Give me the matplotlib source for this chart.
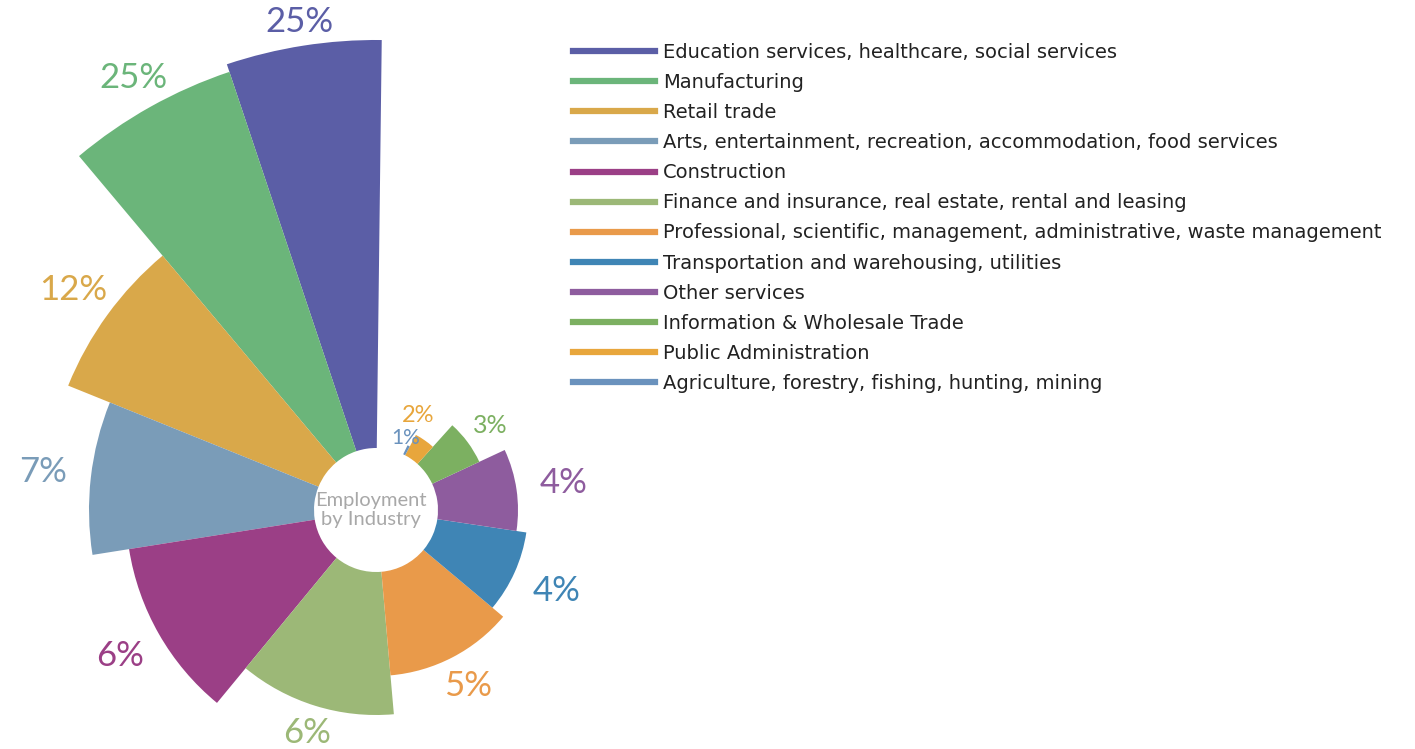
import numpy as np
import matplotlib.pyplot as plt
from matplotlib.lines import Line2D

plt.rcParams['font.family'] = ['Lato', 'DejaVu Sans']

# categories, in drawing order (counter-clockwise from the top)
industries = [
    "Education services, healthcare, social services",
    "Manufacturing",
    "Retail trade",
    "Arts, entertainment, recreation, accommodation, food services",
    "Construction",
    "Finance and insurance, real estate, rental and leasing",
    "Professional, scientific, management, administrative, waste management",
    "Transportation and warehousing, utilities",
    "Other services",
    "Information & Wholesale Trade",
    "Public Administration",
    "Agriculture, forestry, fishing, hunting, mining",
]
shares = [25, 25, 12, 7, 6, 6, 5, 4, 4, 3, 2, 1]

# angular width (deg) and length of each slice
arc_deg = [19.2, 21.5, 28, 31, 41.5, 44.5, 45, 31.5, 33.5, 23, 14, 2]
reach = [470, 462, 332, 287, 250, 205, 166, 152, 142, 114, 85, 72]

colors = ['#5b5ea6', '#6bb57a', '#d9a84a', '#7a9cb8', '#9b3f86', '#9cb877',
          '#e99a4a', '#3f85b5', '#8e5c9e', '#7cb061', '#e8a63c', '#6a92bd']

start = -0.7   # first edge, degrees from the top
hole = 62      # radius of the empty centre

W, H = 1415, 749
cx, cy = 376, 749 - 510
R = 500
fig = plt.figure(figsize=(W / 100, H / 100), dpi=100)
ax = fig.add_axes([(cx - R) / W, (cy - R) / H, 2 * R / W, 2 * R / H], projection='polar')
ax.set_theta_zero_location('N')
ax.set_theta_direction(1)
ax.set_ylim(0, R)
ax.axis('off')

widths = np.radians(arc_deg)
edges = np.radians(start) + np.concatenate([[0], np.cumsum(widths)[:-1]])
ax.bar(edges, np.array(reach) - hole, width=widths, bottom=hole, align='edge',
       color=colors, edgecolor='none')

# percentage labels just outside each slice
for e, w, r, s, c in zip(edges, widths, reach, shares, colors):
    mid = e + w / 2
    if s > 3:
        ang, pad, fs = mid, 20 + 28 * abs(np.sin(mid)), 25
    elif s == 3:
        ang, pad, fs = mid, 12 + 20 * abs(np.sin(mid)), 18
    else:
        # thin slices: label leans into the empty gap at the top
        ang, pad, fs = e + w + np.radians(4), 6 + 12 * (s - 1), 17 if s == 2 else 15
    ax.text(ang, r + pad, f"{s}%", color=c, ha='center', va='center', fontsize=fs)

# centre title
ax.text(np.radians(90), 5, "Employment\nby Industry", ha='center', va='center',
        color='#a8a8a8', fontsize=14.5, linespacing=1.15)

# legend with line handles
handles = [Line2D([0], [0], color=c, lw=4.5) for c in colors]
fs_leg = 14
px = fs_leg * 100 / 72
fig.legend(handles, industries, loc='upper left', bbox_to_anchor=(573 / W, 1 - 43 / H),
           frameon=False, prop={'family': 'DejaVu Sans', 'size': fs_leg},
           handlelength=82 / px, handletextpad=8 / px, labelspacing=0.57,
           borderpad=0, borderaxespad=0, labelcolor='#222222')

fig.savefig('out.png', dpi=100, facecolor='white')
